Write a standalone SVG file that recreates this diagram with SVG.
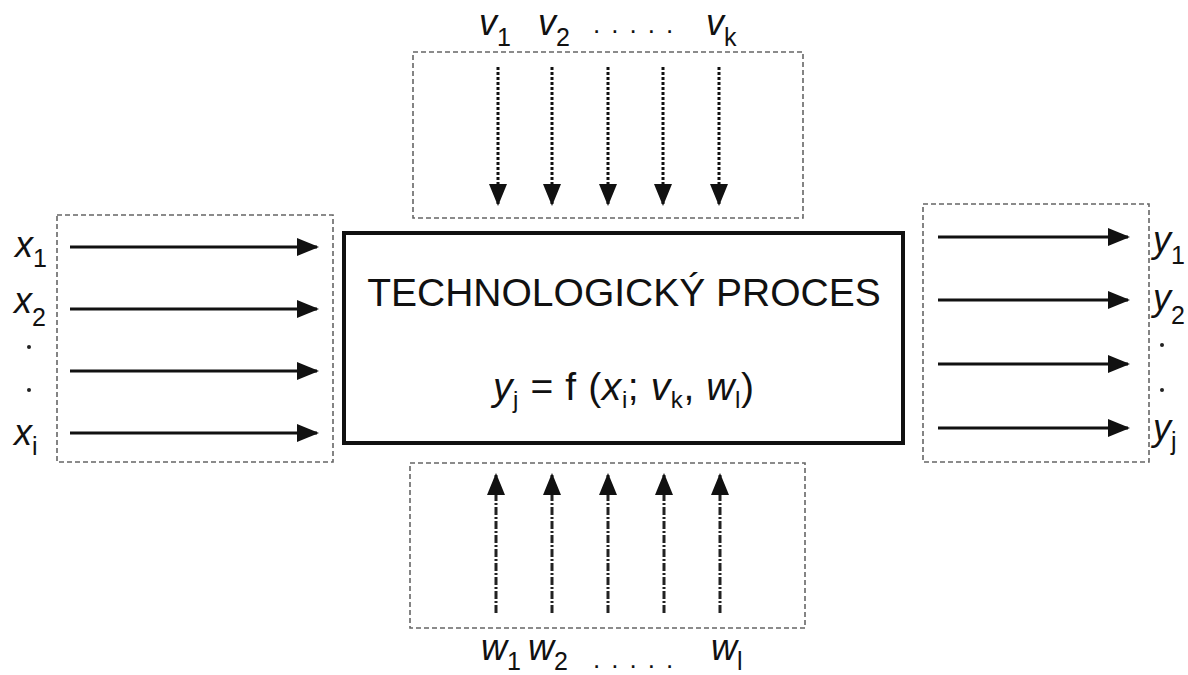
<svg xmlns="http://www.w3.org/2000/svg" width="1188" height="675" viewBox="0 0 1188 675">
<style>
text{font-family:"Liberation Sans",Arial,sans-serif;fill:#111}
.box{fill:none;stroke:#666;stroke-width:1.6;stroke-dasharray:5,3}
.lab{font-size:36px;font-style:italic}
.sub{font-size:25px;font-style:normal}
.dots{font-size:26px;letter-spacing:11px}
.sol{stroke:#111;stroke-width:3;fill:none}
.dot{stroke:#111;stroke-width:3;fill:none;stroke-dasharray:3,2}
.dd{stroke:#222;stroke-width:3;fill:none;stroke-dasharray:8,2,2,2}
</style>
<defs>
<marker id="ah" markerUnits="userSpaceOnUse" markerWidth="22" markerHeight="18" refX="20" refY="9" orient="auto">
<path d="M0,0 L22,9 L0,18 Z" fill="#111"/>
</marker>
</defs>
<rect width="1188" height="675" fill="#fff"/>

<g id="process">
<rect x="344" y="233" width="559" height="210" fill="#fff" stroke="#111" stroke-width="4"/>
<text x="624" y="306" font-size="39" text-anchor="middle">TECHNOLOGICKÝ PROCES</text>
<text x="493" y="400" font-size="39" letter-spacing="0.6"><tspan font-style="italic">y</tspan><tspan font-size="24" dy="8">j</tspan><tspan dy="-8"> = f (</tspan><tspan font-style="italic">x</tspan><tspan font-size="24" dy="8">i</tspan><tspan dy="-8">; </tspan><tspan font-style="italic">v</tspan><tspan font-size="24" dy="8">k</tspan><tspan dy="-8">, </tspan><tspan font-style="italic">w</tspan><tspan font-size="24" dy="8">l</tspan><tspan dy="-8">)</tspan></text>
</g>

<g id="inputs-x">
<rect class="box" x="57" y="215" width="276" height="247"/>
<text class="lab" x="15" y="257">x<tspan class="sub" dy="10">1</tspan></text>
<text class="lab" x="14" y="313">x<tspan class="sub" dy="13">2</tspan></text>
<circle cx="29" cy="347" r="2" fill="#222"/>
<circle cx="29" cy="390" r="2" fill="#222"/>
<text class="lab" x="14" y="445">x<tspan class="sub" dy="10">i</tspan></text>
</g>

<g id="outputs-y">
<rect class="box" x="923" y="204" width="226" height="258"/>
<text class="lab" x="1153" y="252">y<tspan class="sub" dy="12">1</tspan></text>
<text class="lab" x="1153" y="310">y<tspan class="sub" dy="14">2</tspan></text>
<circle cx="1162" cy="345" r="2" fill="#222"/>
<circle cx="1162" cy="390" r="2" fill="#222"/>
<text class="lab" x="1153" y="440">y<tspan class="sub" dy="10">j</tspan></text>
</g>

<g id="inputs-v">
<rect class="box" x="413" y="52" width="390" height="166"/>
<text class="lab" x="479" y="35">v<tspan class="sub" dy="11">1</tspan></text>
<text class="lab" x="538" y="35">v<tspan class="sub" dy="11">2</tspan></text>
<text class="dots" x="593" y="33">.....</text>
<text class="lab" x="706" y="35">v<tspan class="sub" dy="11">k</tspan></text>
</g>

<g id="inputs-w">
<rect class="box" x="410" y="463" width="395" height="165"/>
<text class="lab" x="481" y="660" font-size="32">w<tspan class="sub" dy="10">1</tspan></text>
<text class="lab" x="528" y="660" font-size="32">w<tspan class="sub" dy="10">2</tspan></text>
<text class="dots" x="593" y="668">.....</text>
<text class="lab" x="711" y="660" font-size="32">w<tspan class="sub" dy="10">l</tspan></text>
</g>

<g id="connectors">
<line class="sol" x1="70" y1="247" x2="317" y2="247" marker-end="url(#ah)"/>
<line class="sol" x1="70" y1="309" x2="317" y2="309" marker-end="url(#ah)"/>
<line class="sol" x1="70" y1="371" x2="317" y2="371" marker-end="url(#ah)"/>
<line class="sol" x1="70" y1="433" x2="317" y2="433" marker-end="url(#ah)"/>
<line class="sol" x1="938" y1="237" x2="1128" y2="237" marker-end="url(#ah)"/>
<line class="sol" x1="938" y1="300" x2="1128" y2="300" marker-end="url(#ah)"/>
<line class="sol" x1="938" y1="364" x2="1128" y2="364" marker-end="url(#ah)"/>
<line class="sol" x1="938" y1="428" x2="1128" y2="428" marker-end="url(#ah)"/>
<line class="dot" x1="498" y1="67" x2="498" y2="204" marker-end="url(#ah)"/>
<line class="dot" x1="552" y1="67" x2="552" y2="204" marker-end="url(#ah)"/>
<line class="dot" x1="608" y1="67" x2="608" y2="204" marker-end="url(#ah)"/>
<line class="dot" x1="663" y1="67" x2="663" y2="204" marker-end="url(#ah)"/>
<line class="dot" x1="719" y1="67" x2="719" y2="204" marker-end="url(#ah)"/>
<line class="dd" x1="496" y1="613" x2="496" y2="475" marker-end="url(#ah)"/>
<line class="dd" x1="552" y1="613" x2="552" y2="475" marker-end="url(#ah)"/>
<line class="dd" x1="608" y1="613" x2="608" y2="475" marker-end="url(#ah)"/>
<line class="dd" x1="664" y1="613" x2="664" y2="475" marker-end="url(#ah)"/>
<line class="dd" x1="720" y1="613" x2="720" y2="475" marker-end="url(#ah)"/>
</g>
</svg>
